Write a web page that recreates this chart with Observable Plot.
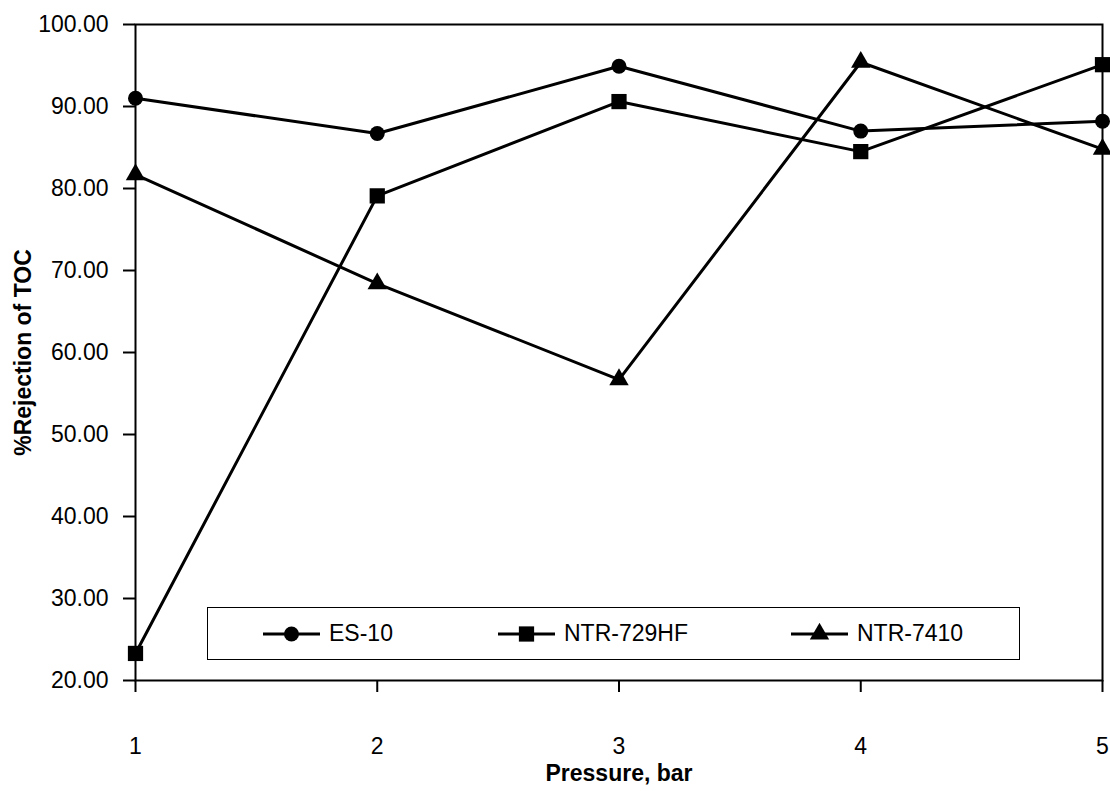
<!DOCTYPE html>
<html>
<head>
<meta charset="utf-8">
<script src="https://cdn.jsdelivr.net/npm/d3@7"></script>
<script src="https://cdn.jsdelivr.net/npm/@observablehq/plot@0.6"></script>
<style>
  html, body { margin: 0; padding: 0; background: #fff; }
  #wrap { position: relative; width: 1110px; height: 791px; overflow: hidden; font-family: "Liberation Sans", Arial, sans-serif; }
  #wrap svg text { font-family: "Liberation Sans", Arial, sans-serif; }
  g[aria-label="x-axis label"] text, g[aria-label="y-axis label"] text { font-weight: bold; }
  #legend { position: absolute; left: 207px; top: 607px; width: 811px; height: 51px; border: 1.5px solid #000; background: #fff; }
  .item { position: absolute; top: 0; height: 51px; display: flex; align-items: center; font-size: 23px; color: #000; }
  .item svg { margin-right: 9px; }
</style>
</head>
<body>
<div id="wrap"></div>
<script>
const pressure = [1, 2, 3, 4, 5];
const seriesNames = ["ES-10", "NTR-729HF", "NTR-7410"];
const es10 = [91.0, 86.7, 94.9, 87.0, 88.2];
const ntr729hf = [23.3, 79.1, 90.6, 84.5, 95.1];
const ntr7410 = [81.7, 68.4, 56.7, 95.4, 84.8];
const seriesSymbols = ["circle", "square", "triangle"];
const yTicks = [20, 30, 40, 50, 60, 70, 80, 90, 100];
const xTicks = [1, 2, 3, 4, 5];

const allValues = [es10, ntr729hf, ntr7410];
const rows = [];
seriesNames.forEach((name, i) => {
  pressure.forEach((p, j) => rows.push({series: name, pressure: p, value: allValues[i][j]}));
});

const symbolR = {circle: 7.5, square: 8.6, triangle: 7.2};
const d3Symbols = {circle: d3.symbolCircle, square: d3.symbolSquare, triangle: d3.symbolTriangle};

const marks = [
  Plot.frame({stroke: "#000", strokeWidth: 2}),
  Plot.axisY({ticks: yTicks, tickFormat: d => d.toFixed(2), tickSize: 12, tickPadding: 15, fontSize: 23, strokeWidth: 2,
    label: "%Rejection of TOC", labelAnchor: "center", labelOffset: 121, labelArrow: "none"}),
  Plot.axisX({ticks: xTicks, tickFormat: d => String(d), tickSize: 12, tickPadding: 45, fontSize: 23, strokeWidth: 2,
    label: "Pressure, bar", labelAnchor: "center", labelOffset: 100, labelArrow: "none"}),
  Plot.line(rows, {x: "pressure", y: "value", z: "series", stroke: "#000", strokeWidth: 3})
];
seriesNames.forEach((name, i) => {
  marks.push(Plot.dot(rows.filter(d => d.series === name), {
    x: "pressure", y: "value", symbol: seriesSymbols[i], r: symbolR[seriesSymbols[i]], fill: "#000", stroke: "none"
  }));
});

const chart = Plot.plot({
  width: 1110,
  height: 791,
  marginTop: 24,
  marginBottom: 111,
  marginLeft: 135,
  marginRight: 8,
  style: {fontFamily: "Liberation Sans, Arial, sans-serif", fontSize: "23px", color: "#000", background: "#fff"},
  x: {domain: [1, 5]},
  y: {domain: [20, 100]},
  marks
});
const wrap = document.getElementById("wrap");
wrap.appendChild(chart);

// legend overlay
const legend = document.createElement("div");
legend.id = "legend";
const itemLeft = [55, 290, 583];
seriesNames.forEach((name, i) => {
  const item = document.createElement("div");
  item.className = "item";
  item.style.left = itemLeft[i] + "px";
  const s = seriesSymbols[i];
  const sym = d3.symbol(d3Symbols[s], Math.PI * symbolR[s] ** 2)();
  const sv = d3.create("svg").attr("width", 57).attr("height", 22);
  sv.append("line").attr("x1", 0).attr("x2", 57).attr("y1", 11).attr("y2", 11).attr("stroke", "#000").attr("stroke-width", 3);
  sv.append("path").attr("d", sym).attr("transform", "translate(28.5,11)").attr("fill", "#000");
  item.appendChild(sv.node());
  const t = document.createElement("span");
  t.textContent = name;
  item.appendChild(t);
  legend.appendChild(item);
});
wrap.appendChild(legend);
</script>
</body>
</html>
